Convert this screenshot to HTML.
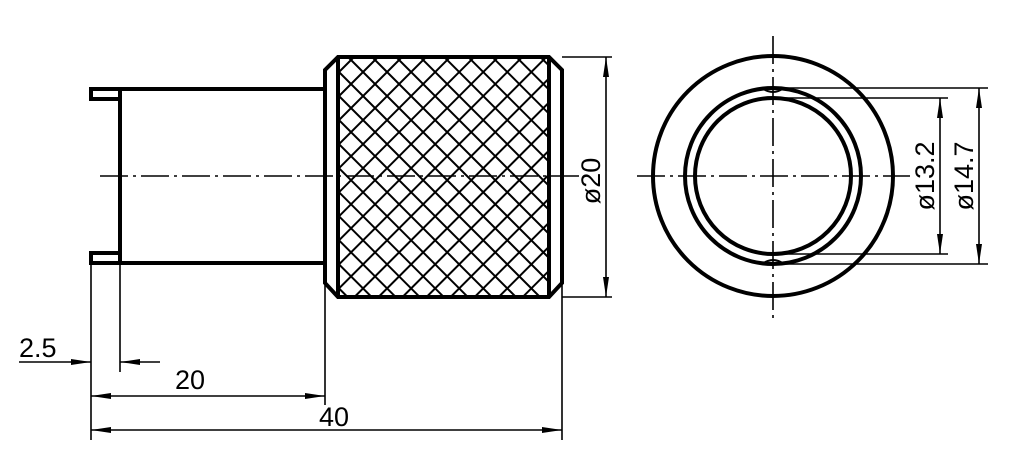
<!DOCTYPE html>
<html><head><style>body{margin:0;background:#fff}svg{display:block}</style></head><body>
<svg width="1016" height="472" viewBox="0 0 1016 472" xmlns="http://www.w3.org/2000/svg" font-family="Liberation Sans, sans-serif">
<defs>
<pattern id="p" width="17" height="17" patternUnits="userSpaceOnUse" patternTransform="translate(339,60) rotate(45)">
<path d="M0,8.5 H17 M8.5,0 V17" stroke="#000" stroke-width="2" fill="none"/>
</pattern>
<marker id="a" viewBox="0 0 20 8" refX="20" refY="4" markerWidth="20" markerHeight="8" markerUnits="userSpaceOnUse" orient="auto"><path d="M0,1 L20,4 L0,7Z" fill="#000"/></marker>
</defs>
<rect x="339" y="58" width="211" height="238" fill="url(#p)"/>
<g fill="none" stroke="#000" stroke-width="4">
<path d="M325,89 H120 V263 H325"/>
<path d="M120,89 H91 V99 H120"/>
<path d="M120,253 H91 V263 H120"/>
<path d="M338,57 H549 L562,70 V283 L549,297 H338 L325,283 V70 Z"/>
<line x1="338" y1="57" x2="338" y2="297"/>
<line x1="549" y1="57" x2="549" y2="297"/>
<circle cx="773" cy="176" r="120"/>
<circle cx="773" cy="176" r="88"/>
<circle cx="773" cy="176" r="78"/>
</g>
<g fill="none" stroke="#000" stroke-width="1.6">
<path d="M762,88 Q773,96 784,88 M762,264 Q773,256 784,264" stroke-width="2"/>
<line x1="100" y1="176" x2="580" y2="176" stroke-dasharray="28,5,3,5"/>
<line x1="637" y1="176" x2="910" y2="176" stroke-dasharray="28,5,3,5"/>
<line x1="773" y1="36" x2="773" y2="323" stroke-dasharray="28,5,3,5"/>
<line x1="562" y1="57" x2="612" y2="57"/>
<line x1="562" y1="297" x2="612" y2="297"/>
<line x1="773" y1="88" x2="988" y2="88"/>
<line x1="773" y1="264" x2="988" y2="264"/>
<line x1="773" y1="98" x2="948" y2="98"/>
<line x1="773" y1="254" x2="948" y2="254"/>
<line x1="91" y1="263" x2="91" y2="440"/>
<line x1="120" y1="263" x2="120" y2="372"/>
<line x1="325" y1="283" x2="325" y2="405"/>
<line x1="562" y1="283" x2="562" y2="440"/>
<line x1="606" y1="177" x2="606" y2="57" marker-end="url(#a)"/>
<line x1="606" y1="177" x2="606" y2="297" marker-end="url(#a)"/>
<line x1="979" y1="176" x2="979" y2="88" marker-end="url(#a)"/>
<line x1="979" y1="176" x2="979" y2="264" marker-end="url(#a)"/>
<line x1="940" y1="176" x2="940" y2="98" marker-end="url(#a)"/>
<line x1="940" y1="176" x2="940" y2="254" marker-end="url(#a)"/>
<line x1="19" y1="362" x2="91" y2="362" marker-end="url(#a)"/>
<line x1="160" y1="362" x2="120" y2="362" marker-end="url(#a)"/>
<line x1="208" y1="396" x2="91" y2="396" marker-end="url(#a)"/>
<line x1="208" y1="396" x2="325" y2="396" marker-end="url(#a)"/>
<line x1="326" y1="430" x2="91" y2="430" marker-end="url(#a)"/>
<line x1="326" y1="430" x2="562" y2="430" marker-end="url(#a)"/>
</g>
<g font-size="27" fill="#000">
<text x="19" y="357">2.5</text>
<text x="190" y="389" text-anchor="middle">20</text>
<text x="334" y="426" text-anchor="middle">40</text>
<text transform="translate(600,181) rotate(-90)" text-anchor="middle">ø20</text>
<text transform="translate(934,176) rotate(-90)" text-anchor="middle">ø13.2</text>
<text transform="translate(973,176) rotate(-90)" text-anchor="middle">ø14.7</text>
</g>
</svg>
</body></html>
